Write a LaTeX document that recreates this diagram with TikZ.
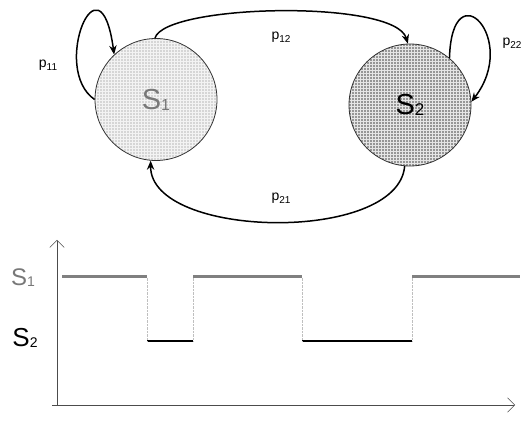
\documentclass[tikz,border=0pt]{standalone}
\usepackage{fontspec}
\setmainfont{Liberation Sans}
\usetikzlibrary{arrows.meta,patterns}

\definecolor{stateone}{RGB}{214,214,214}
\definecolor{statetwo}{RGB}{150,150,150}
\definecolor{lblgray}{RGB}{120,120,120}

% lowered index of given size
\newcommand{\ssub}[3]{\raisebox{#1}{\fontsize{#2}{#2}\selectfont #3}}

\begin{document}
\begin{tikzpicture}[x=1pt, y=1pt,
  state/.style={circle, draw=black!80, line width=0.8pt, minimum size=122pt, inner sep=0pt,
    font=\fontsize{29}{32}\selectfont},
  prob/.style={font=\fontsize{14}{16}\selectfont, inner sep=1pt},
  trans/.style={-{Stealth[length=3.2mm, width=2.6mm]}, line width=1.5pt},
  axis/.style={-{Straight Barb[length=2.5mm]}, line width=0.5pt, draw=black!70},
  level/.style={line width=3pt},
  jump/.style={line width=0.4pt, draw=black!25, densely dotted},
]
\useasboundingbox (0,0) rectangle (532,439);

% === Markov chain ===
\node[state, preaction={fill=stateone}, pattern=grid, pattern color=white!70!stateone,
  text=lblgray] (s1) at (156,339.5) {S\ssub{-1pt}{16}{1}};
\node[state, preaction={fill=statetwo}, pattern=grid, pattern color=white!75!statetwo]
  (s2) at (410,334) {S\ssub{-1pt}{17}{2}};

\draw[trans] (s1.180) .. controls (50,370) and (100,490) .. (s1.133);
\draw[trans] (s1.91) .. controls (165,435) and (395,440) .. (s2.92);
\draw[trans] (s2.50) .. controls (452,470) and (520,400) .. (s2.3);
\draw[trans] (s2.265) .. controls (398,195) and (150,200) .. (s1.265);

\node[prob] (p11) at (48,374) {p\ssub{-3pt}{10}{11}};
\node[prob] (p12) at (281,402) {p\ssub{-3pt}{10}{12}};
\node[prob] (p22) at (512,396) {p\ssub{-3pt}{10}{22}};
\node[prob] (p21) at (281,241) {p\ssub{-3pt}{10}{21}};

% === state sequence ===
\coordinate (o) at (57,34);
\coordinate (ytop) at (57,199);
\coordinate (xend) at (515,34);
\draw[axis] (52,34) -- (xend);
\draw[axis] (o) -- (ytop);

\node[font=\fontsize{24}{28}\selectfont, text=lblgray] (l1) at (23,161) {S\ssub{-1pt}{14}{1}};
\node[font=\fontsize{26}{28}\selectfont] (l2) at (25,101) {S\ssub{-1pt}{14}{2}};

\foreach \xa/\xb in {62/147, 193/302, 412/520}
  \draw[level, draw=black!50] (\xa,162) -- (\xb,162);
\foreach \xa/\xb in {147/193, 302/412}
  \draw[level, line width=2.5pt, draw=black] (\xa,98) -- (\xb,98);
\foreach \xj in {147,193,302,412}
  \draw[jump] (\xj,98) -- (\xj,162);

\end{tikzpicture}
\end{document}
